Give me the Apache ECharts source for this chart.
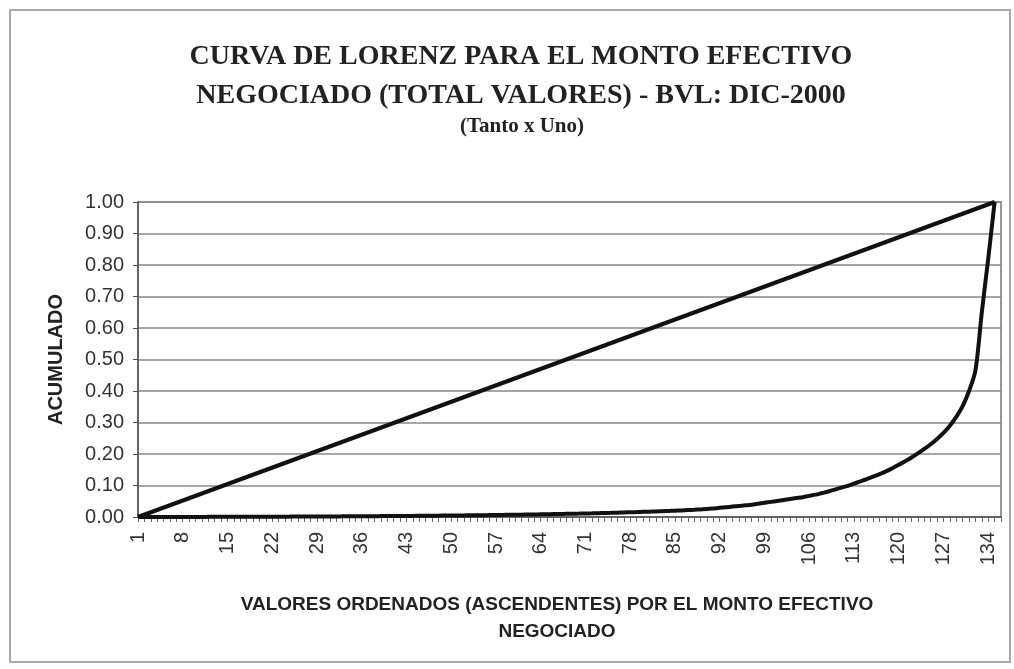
<!DOCTYPE html>
<html>
<head>
<meta charset="utf-8">
<script src="https://cdn.jsdelivr.net/npm/echarts@6/dist/echarts.min.js"></script>
<style>
  html, body { margin: 0; padding: 0; background: #fff; }
  #chart { width: 1014px; height: 669px; }
</style>
</head>
<body>
<div id="chart"></div>
<script>
// categories 1..136 (ordered values)
const categories = Array.from({ length: 136 }, (_, i) => String(i + 1));

// accumulated share
const lorenz = [
  0.0000, 0.0000, 0.0000, 0.0001, 0.0001, 0.0001, 0.0002, 0.0002, 0.0002, 0.0003,
  0.0003, 0.0004, 0.0004, 0.0005, 0.0005, 0.0006, 0.0006, 0.0007, 0.0008, 0.0008,
  0.0009, 0.0010, 0.0011, 0.0011, 0.0012, 0.0013, 0.0014, 0.0015, 0.0016, 0.0017,
  0.0018, 0.0019, 0.0020, 0.0021, 0.0022, 0.0024, 0.0025, 0.0026, 0.0028, 0.0029,
  0.0031, 0.0032, 0.0034, 0.0035, 0.0037, 0.0039, 0.0041, 0.0043, 0.0045, 0.0047,
  0.0049, 0.0051, 0.0053, 0.0056, 0.0058, 0.0061, 0.0063, 0.0066, 0.0069, 0.0072,
  0.0075, 0.0078, 0.0081, 0.0085, 0.0088, 0.0092, 0.0096, 0.0100, 0.0104, 0.0108,
  0.0113, 0.0117, 0.0122, 0.0127, 0.0132, 0.0138, 0.0144, 0.0150, 0.0156, 0.0163,
  0.0170, 0.0177, 0.0185, 0.0193, 0.0201, 0.0210, 0.0220, 0.0230, 0.0241, 0.0252,
  0.027, 0.029, 0.031, 0.033, 0.035, 0.037, 0.039, 0.042, 0.045, 0.048,
  0.051, 0.054, 0.057, 0.060, 0.063, 0.067, 0.071, 0.076, 0.081, 0.087,
  0.093, 0.099, 0.106, 0.113, 0.120, 0.128, 0.136, 0.145, 0.155, 0.166,
  0.177, 0.189, 0.202, 0.216, 0.231, 0.248, 0.267, 0.290, 0.318, 0.352,
  0.400, 0.465, 0.650, 0.820, 1.000
];

// line of perfect equality (two end points)
const equality = [['1', 0], ['135', 1]];

const titleLines = [
  'CURVA DE LORENZ PARA EL MONTO EFECTIVO',
  'NEGOCIADO (TOTAL VALORES) - BVL: DIC-2000'
];
const subtitle = '(Tanto x Uno)';
const yName = 'ACUMULADO';
const xName = 'VALORES ORDENADOS (ASCENDENTES) POR EL MONTO EFECTIVO\nNEGOCIADO';

const chart = echarts.init(document.getElementById('chart'));

chart.setOption({
  backgroundColor: '#fff',
  animation: false,
  title: [{
    text: titleLines.join('\n'),
    left: 516, top: 32, textAlign: 'center',
    textStyle: { fontFamily: 'Liberation Serif', fontWeight: 'bold', fontSize: 28, lineHeight: 39, color: '#222' }
  }, {
    text: subtitle,
    left: 517, top: 111, textAlign: 'center',
    textStyle: { fontFamily: 'Liberation Serif', fontWeight: 'bold', fontSize: 21, color: '#222' }
  }, {
    text: xName,
    left: 552, top: 586, textAlign: 'center',
    textStyle: { fontFamily: 'Liberation Sans', fontWeight: 'bold', fontSize: 19, lineHeight: 27, color: '#222' }
  }],
  graphic: [{
    type: 'rect', shape: { x: 10, y: 10, width: 1000, height: 652 },
    style: { fill: 'none', stroke: '#aaa', lineWidth: 2 }, silent: true
  }],
  grid: {
    left: 138, right: 13, top: 202, bottom: 152,
    show: true, borderColor: '#777', borderWidth: 1.5, backgroundColor: '#fff'
  },
  xAxis: {
    type: 'category',
    data: categories,
    boundaryGap: false,
    axisLine: { lineStyle: { color: '#555', width: 1.5 } },
    axisTick: { interval: 0, length: 5, lineStyle: { color: '#666' } },
    axisLabel: {
      interval: 6, rotate: 90, margin: 15,
      fontFamily: 'Liberation Sans', fontSize: 20, color: '#333'
    },
    splitLine: { show: false }
  },
  yAxis: {
    type: 'value', min: 0, max: 1, interval: 0.1,
    name: yName, nameLocation: 'middle', nameGap: 72,
    nameTextStyle: { fontFamily: 'Liberation Sans', fontWeight: 'bold', fontSize: 20, color: '#222' },
    axisLine: { show: true, lineStyle: { color: '#555', width: 1.5 } },
    axisTick: { show: true, length: 5, lineStyle: { color: '#555' } },
    axisLabel: {
      margin: 14, formatter: v => v.toFixed(2),
      fontFamily: 'Liberation Sans', fontSize: 20, color: '#333'
    },
    splitLine: { lineStyle: { color: '#888', width: 1.5 } }
  },
  series: [{
    type: 'line', data: equality, showSymbol: false,
    lineStyle: { color: '#111', width: 4 }
  }, {
    type: 'line', data: lorenz, showSymbol: false, smooth: 0.3,
    lineStyle: { color: '#111', width: 4 }
  }]
});
</script>
</body>
</html>
